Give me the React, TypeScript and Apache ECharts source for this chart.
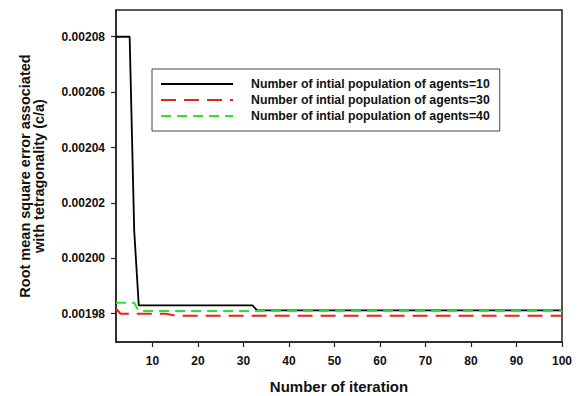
import React, { useEffect, useRef } from "react";
import * as echarts from "echarts";

const seriesNames = [
  "Number of intial population of agents=10",
  "Number of intial population of agents=30",
  "Number of intial population of agents=40",
];

// agents = 10 (breakpoints of the step-like curve)
const agents10X = [2, 5, 6, 7, 32, 33, 100];
const agents10Y = [0.00208, 0.00208, 0.00201, 0.001983, 0.001983, 0.0019812, 0.0019812];

// agents = 30
const agents30X = [2, 3, 13, 15, 100];
const agents30Y = [0.0019818, 0.00198, 0.00198, 0.0019793, 0.0019793];

// agents = 40
const agents40X = [2, 6, 7, 100];
const agents40Y = [0.001984, 0.001984, 0.001981, 0.001981];

const xTicks = [10, 20, 30, 40, 50, 60, 70, 80, 90, 100];
const yTicks = [0.00198, 0.002, 0.00202, 0.00204, 0.00206, 0.00208];

const zip = (xs: number[], ys: number[]) => xs.map((x, i) => [x, ys[i]]);

const FONT = "'Liberation Sans', Arial, sans-serif";

export default function App() {
  const ref = useRef<HTMLDivElement>(null);

  useEffect(() => {
    document.body.style.margin = "0";
    if (!ref.current) return;
    const chart = echarts.init(ref.current, undefined, { renderer: "svg" });
    const axisColor = "#222";
    chart.setOption({
      animation: false,
      backgroundColor: "#fff",
      textStyle: { fontFamily: FONT },
      grid: {
        left: 116,
        top: 10,
        right: 17,
        bottom: 54,
        containLabel: false,
        outerBoundsMode: "none",
        show: true,
        borderColor: axisColor,
        borderWidth: 1.5,
        backgroundColor: "transparent",
      },
      legend: {
        orient: "vertical",
        left: 152,
        top: 69,
        padding: [9, 10, 9, 8],
        itemWidth: 72,
        itemHeight: 14,
        itemGap: 4,
        backgroundColor: "#fff",
        borderColor: "#444",
        borderWidth: 1,
        data: seriesNames,
        itemStyle: { opacity: 0 },
        textStyle: {
          fontFamily: FONT,
          fontWeight: "bold",
          fontSize: 12.3,
          color: "#111",
          padding: [0, 0, 0, 13],
        },
      },
      xAxis: {
        type: "value",
        min: 2,
        max: 100,
        name: "Number of iteration",
        nameLocation: "middle",
        nameGap: 37,
        nameTextStyle: { fontFamily: FONT, fontWeight: "bold", fontSize: 15, color: "#111" },
        axisLine: { show: true, lineStyle: { color: axisColor, width: 1.5 } },
        axisTick: { show: true, length: 5, lineStyle: { color: axisColor, width: 1.2 }, customValues: xTicks },
        axisLabel: {
          customValues: xTicks,
          margin: 13,
          fontFamily: FONT,
          fontWeight: "bold",
          fontSize: 12,
          color: "#111",
        },
        splitLine: { show: false },
      },
      yAxis: {
        type: "value",
        min: 0.0019698,
        max: 0.00208965,
        name: "Root mean square error associated\nwith tetragonality (c/a)",
        nameLocation: "middle",
        nameRotate: 90,
        nameGap: 70,
        nameTextStyle: {
          fontFamily: FONT,
          fontWeight: "bold",
          fontSize: 14.5,
          lineHeight: 14,
          color: "#111",
          align: "center",
        },
        axisLine: { show: true, lineStyle: { color: axisColor, width: 1.5 } },
        axisTick: { show: true, length: 5, lineStyle: { color: axisColor, width: 1.2 }, customValues: yTicks },
        axisLabel: {
          customValues: yTicks,
          margin: 11,
          fontFamily: FONT,
          fontWeight: "bold",
          fontSize: 12,
          color: "#111",
          formatter: (v: number) => v.toFixed(5),
        },
        splitLine: { show: false },
      },
      series: [
        {
          name: seriesNames[0],
          type: "line",
          data: zip(agents10X, agents10Y),
          symbol: "none",
          lineStyle: { color: "#000", width: 1.8, type: "solid" },
          itemStyle: { color: "#000" },
        },
        {
          name: seriesNames[1],
          type: "line",
          data: zip(agents30X, agents30Y),
          symbol: "none",
          lineStyle: { color: "#e5241e", width: 2, type: [15, 8] },
          itemStyle: { color: "#e5241e" },
        },
        {
          name: seriesNames[2],
          type: "line",
          data: zip(agents40X, agents40Y),
          symbol: "none",
          lineStyle: { color: "#2fe02f", width: 2, type: [10, 6] },
          itemStyle: { color: "#2fe02f" },
        },
      ],
    });
    return () => chart.dispose();
  }, []);

  return (
    <div
      ref={ref}
      style={{ position: "absolute", left: 0, top: 0, width: 579, height: 396 }}
    />
  );
}
